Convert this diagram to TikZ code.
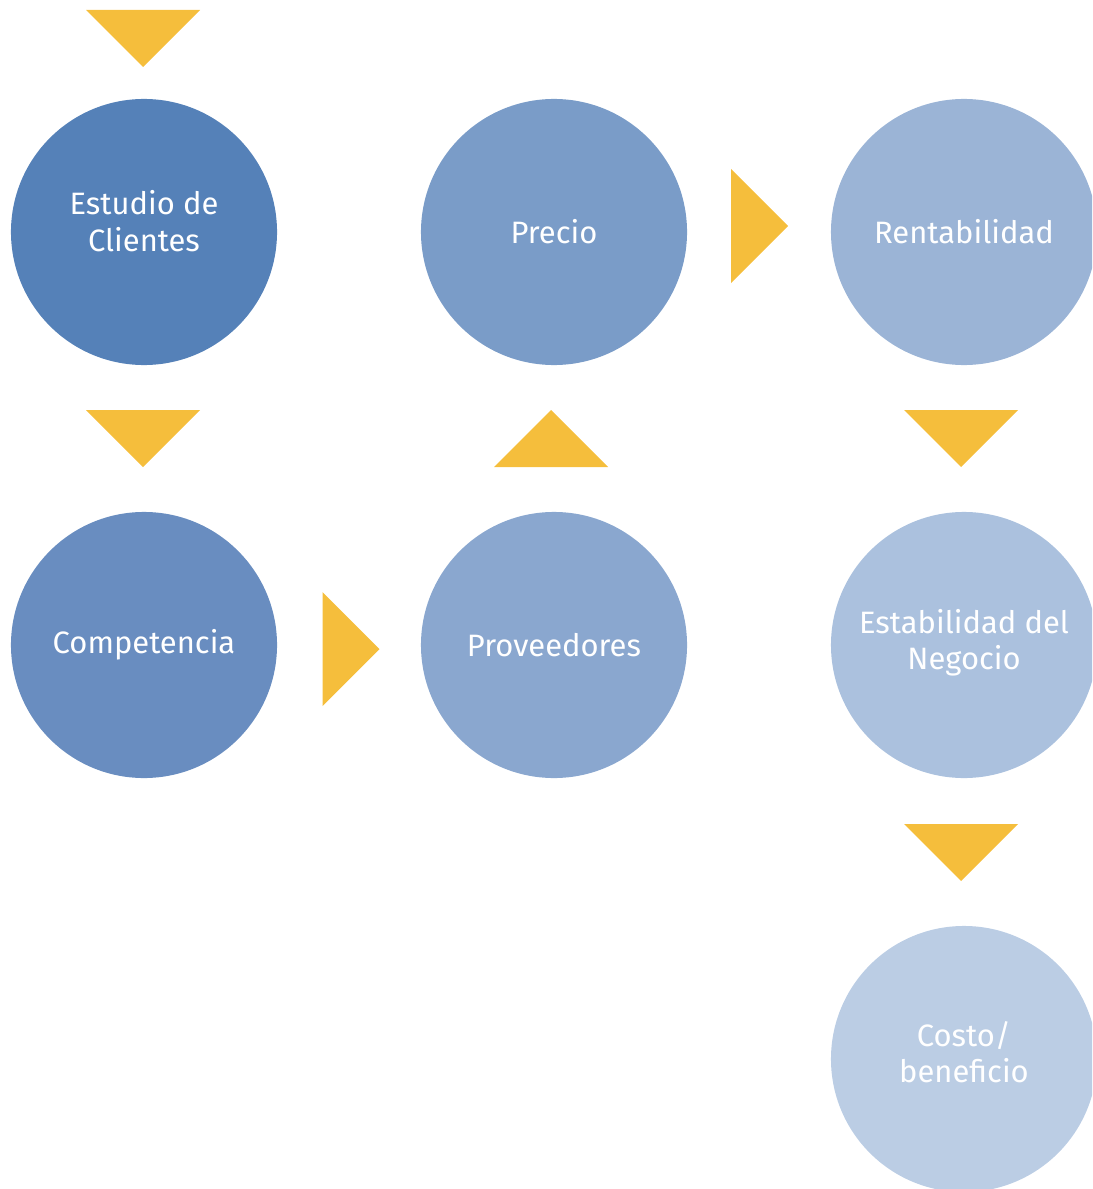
\documentclass[tikz,border=0pt]{standalone}
\usepackage{fontspec}
\setmainfont{Fira Sans}
\usetikzlibrary{calc,positioning}
\definecolor{amber}{HTML}{F5BE3C}
\definecolor{blueA}{HTML}{5581B8}
\definecolor{blueB}{HTML}{698DC0}
\definecolor{blueC}{HTML}{7A9CC8}
\definecolor{blueD}{HTML}{8AA7CF}
\definecolor{blueE}{HTML}{9BB4D6}
\definecolor{blueF}{HTML}{ABC1DE}
\definecolor{blueG}{HTML}{BBCDE4}
\tikzset{
    x=0.025cm, y=-0.025cm, % pixel grid, y going down
    bubble/.style={circle, draw=none, minimum size=6.65cm, inner sep=0pt,
        text=white, align=center,
        font=\fontsize{22}{26}\selectfont}, % sets the look of each circle
    tri/.style={fill=amber, draw=none}, % the yellow arrow heads
}
% yellow arrow heads around a named coordinate
\newcommand{\tridown}[1]{\fill[tri] ($(#1)+(-57,-28.5)$) -- ($(#1)+(57,-28.5)$) -- ($(#1)+(0,28.5)$) -- cycle;}
\newcommand{\triup}[1]{\fill[tri] ($(#1)+(-57,28.5)$) -- ($(#1)+(57,28.5)$) -- ($(#1)+(0,-28.5)$) -- cycle;}
\newcommand{\triright}[1]{\fill[tri] ($(#1)+(-28.5,-57)$) -- ($(#1)+(-28.5,57)$) -- ($(#1)+(28.5,0)$) -- cycle;}
\begin{document}
\begin{tikzpicture}
  \useasboundingbox (0,0) rectangle (1092,1189);
  \clip (0,0) rectangle (1092,1189);

  \node[bubble, fill=blueA] (c_0) at (144,232)  {Estudio de\\Clientes\\[-10pt]};
  \node[bubble, fill=blueB] (c_1) at (144,645)  {Competencia};
  \node[bubble, fill=blueD] (c_2) at (554,645)  {Proveedores};
  \node[bubble, fill=blueC] (c_3) at (554,232)  {Precio};
  \node[bubble, fill=blueE] (c_4) at (964,232)  {Rentabilidad};
  \node[bubble, fill=blueF] (c_5) at (964,645)  {Estabilidad del\\Negocio\\[-18pt]};
  \node[bubble, fill=blueG] (c_6) at (964,1059) {Costo/\\beneficio\\[-16pt]};

  \coordinate (t_0) at (143,38.5);
  \coordinate (t_1) at (143,438.5);
  \coordinate (t_2) at (351,649);
  \coordinate (t_3) at (551,438.5);
  \coordinate (t_4) at (759.5,226);
  \coordinate (t_5) at (961,438.5);
  \coordinate (t_6) at (961,852.5);

  \tridown{t_0}
  \tridown{t_1}
  \triright{t_2}
  \triup{t_3}
  \triright{t_4}
  \tridown{t_5}
  \tridown{t_6}
\end{tikzpicture}
\end{document}
